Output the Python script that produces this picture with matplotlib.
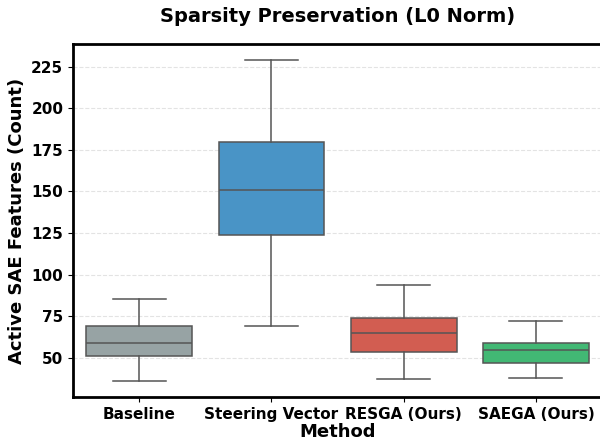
import matplotlib
matplotlib.use("Agg")
from matplotlib import pyplot as plt
import seaborn as sns

methods = ["Baseline", "Steering Vector", "RESGA (Ours)", "SAEGA (Ours)"]
whisker_low = [36, 69, 37, 38]
q1 = [51, 124, 53.5, 46.7]
median = [59, 151, 65, 54.5]
q3 = [69, 180, 74, 59]
whisker_high = [85, 229, 94, 72]
colors = ["#95a5a6", "#3498db", "#e74c3c", "#2ecc71"]

stats = []
for i, name in enumerate(methods):
    stats.append(dict(label=name, whislo=whisker_low[i], q1=q1[i], med=median[i],
                      q3=q3[i], whishi=whisker_high[i], fliers=[]))

fig = plt.figure(figsize=(6, 4.42), dpi=100)
ax = fig.add_axes([0.1217, 0.1018, 0.8817, 0.7987])

line = dict(color="#555555", linewidth=1.1)
bp = ax.bxp(stats, positions=range(len(methods)), widths=0.8, patch_artist=True,
            boxprops=line, whiskerprops=line, capprops=line, medianprops=line,
            showfliers=False, capwidths=0.4)
for patch, c in zip(bp["boxes"], colors):
    patch.set_facecolor(sns.desaturate(c, 0.75))

ax.set_xlim(-0.5, 3.5)
ax.margins(y=0.05)
ax.set_yticks([50, 75, 100, 125, 150, 175, 200, 225])
ax.yaxis.grid(True, linestyle="--", color="#dddddd", linewidth=0.8, alpha=0.8)
ax.set_axisbelow(True)

for s in ax.spines.values():
    s.set_linewidth(2)
    s.set_color("black")
ax.spines["right"].set_visible(False)  # sits just past the image edge

ax.tick_params(labelsize=11)
for lab in ax.get_xticklabels() + ax.get_yticklabels():
    lab.set_fontweight("bold")

ax.set_xlabel("Method", fontsize=13, fontweight="bold", labelpad=1)
ax.set_ylabel("Active SAE Features (Count)", fontsize=13, fontweight="bold")
ax.set_title("Sparsity Preservation (L0 Norm)", fontsize=14, fontweight="bold", pad=15.5)

fig.savefig("out.png", dpi=100)
